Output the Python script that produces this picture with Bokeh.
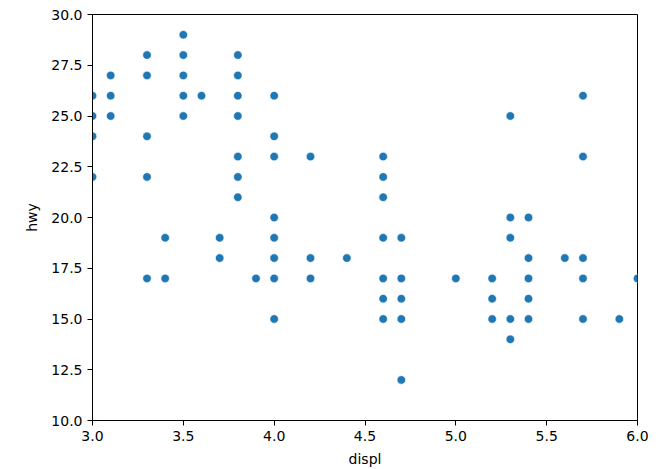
from bokeh.plotting import figure
from bokeh.models import Range1d, FixedTicker, NumeralTickFormatter
from bokeh.embed import file_html
from bokeh.resources import INLINE

# mpg data (displ vs hwy)
displ = [3.0, 3.0, 3.0, 3.0,
         3.1, 3.1, 3.1,
         3.3, 3.3, 3.3, 3.3, 3.3,
         3.4, 3.4,
         3.5, 3.5, 3.5, 3.5, 3.5,
         3.6,
         3.7, 3.7,
         3.8, 3.8, 3.8, 3.8, 3.8, 3.8, 3.8,
         3.9,
         4.0, 4.0, 4.0, 4.0, 4.0, 4.0, 4.0, 4.0,
         4.2, 4.2, 4.2,
         4.4,
         4.6, 4.6, 4.6, 4.6, 4.6, 4.6, 4.6,
         4.7, 4.7, 4.7, 4.7, 4.7,
         5.0,
         5.2, 5.2, 5.2,
         5.3, 5.3, 5.3, 5.3, 5.3,
         5.4, 5.4, 5.4, 5.4, 5.4,
         5.6,
         5.7, 5.7, 5.7, 5.7, 5.7,
         5.9,
         6.0]
hwy = [26, 25, 24, 22,
       27, 26, 25,
       28, 27, 24, 22, 17,
       19, 17,
       29, 28, 27, 26, 25,
       26,
       19, 18,
       28, 27, 26, 25, 23, 22, 21,
       17,
       26, 24, 23, 20, 19, 18, 17, 15,
       23, 18, 17,
       18,
       23, 22, 21, 19, 17, 16, 15,
       19, 17, 16, 15, 12,
       17,
       17, 16, 15,
       25, 20, 19, 15, 14,
       20, 18, 17, 16, 15,
       18,
       26, 23, 18, 17, 15,
       15,
       17]

x_ticks = [3.0, 3.5, 4.0, 4.5, 5.0, 5.5, 6.0]
y_ticks = [10.0, 12.5, 15.0, 17.5, 20.0, 22.5, 25.0, 27.5, 30.0]

p = figure(width=660, height=469, output_backend="svg", toolbar_location=None,
           x_range=Range1d(3, 6), y_range=Range1d(10, 30),
           min_border_left=92, min_border_right=23,
           min_border_top=14, min_border_bottom=49)

p.scatter(displ, hwy, size=8.5, fill_color="#1f77b4", line_color="white",
          line_width=0.6)

p.grid.visible = False
p.outline_line_color = "black"
p.outline_line_alpha = 1
p.outline_line_width = 1

p.xaxis.axis_label = "displ"
p.yaxis.axis_label = "hwy"
p.xaxis.ticker = FixedTicker(ticks=x_ticks)
p.yaxis.ticker = FixedTicker(ticks=y_ticks)
p.xaxis.formatter = NumeralTickFormatter(format="0.0")
p.yaxis.formatter = NumeralTickFormatter(format="0.0")

for ax in (p.xaxis, p.yaxis):
    ax.axis_line_color = "black"
    ax.major_tick_line_color = "black"
    ax.major_tick_in = 0
    ax.major_tick_out = 5
    ax.minor_tick_line_color = None
    ax.major_label_text_font = "DejaVu Sans"
    ax.major_label_text_font_size = "14px"
    ax.major_label_text_color = "black"
    ax.axis_label_text_font = "DejaVu Sans"
    ax.axis_label_text_font_size = "14px"
    ax.axis_label_text_font_style = "normal"
    ax.axis_label_text_color = "black"
    ax.major_label_standoff = 5

p.xaxis.axis_label_standoff = 7
p.yaxis.axis_label_standoff = 8

open("out.html", "w").write(file_html(p, INLINE))
